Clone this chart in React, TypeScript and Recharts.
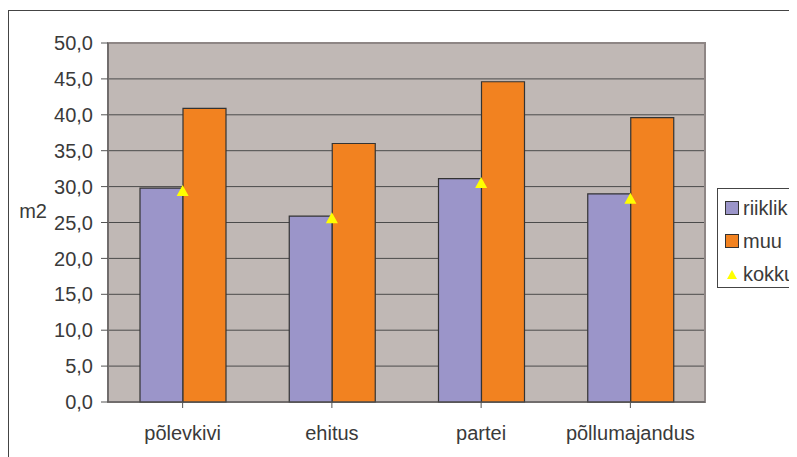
import React from 'react';
import { ComposedChart, Bar, Line, XAxis, YAxis, CartesianGrid, Legend, ReferenceArea } from 'recharts';

const categories = ['põlevkivi', 'ehitus', 'partei', 'põllumajandus'];
const riiklik = [29.8, 25.9, 31.1, 29.0];
const muu = [40.9, 36.0, 44.6, 39.6];
const kokku = [29.4, 25.6, 30.5, 28.3];
const yTicks = [0, 5, 10, 15, 20, 25, 30, 35, 40, 45, 50];

const data = categories.map((c, i) => ({ name: c, riiklik: riiklik[i], muu: muu[i], kokku: kokku[i] }));

const FONT = '"Liberation Sans", Arial, sans-serif';
const TXT = '#3a3a3a';
const PURPLE = '#9b95c9';
const ORANGE = '#f28220';
const YELLOW = '#ffff00';

const Triangle = (props: any) => {
  const { cx, cy } = props;
  if (cx == null || cy == null) return null;
  return <polygon points={`${cx - 6},${cy + 5} ${cx + 6},${cy + 5} ${cx},${cy - 6}`} fill={YELLOW} stroke="none" />;
};

const LegendBox = () => {
  const items = [
    { name: 'riiklik', color: PURPLE, type: 'rect' },
    { name: 'muu', color: ORANGE, type: 'rect' },
    { name: 'kokku', color: YELLOW, type: 'tri' },
  ];
  return (
    <div style={{ border: '1px solid #444', background: '#fff', width: 110, height: 100, boxSizing: 'border-box', position: 'relative', fontFamily: FONT, fontSize: 20, color: TXT }}>
      {items.map((it, i) => (
        <div key={it.name} style={{ position: 'absolute', left: 7, top: 7 + i * 33, height: 24, display: 'flex', alignItems: 'center' }}>
          {it.type === 'rect' ? (
            <span style={{ display: 'inline-block', width: 12, height: 12, background: it.color, border: '1px solid #333', marginRight: 4 }} />
          ) : (
            <svg width={14} height={14} style={{ marginRight: 4 }}>
              <polygon points="2,12 12,12 7,3" fill={YELLOW} />
            </svg>
          )}
          <span style={{ lineHeight: '24px' }}>{it.name}</span>
        </div>
      ))}
    </div>
  );
};

export default function App() {
  return (
    <div style={{ paddingTop: 2 }}>
      <div style={{ borderLeft: '1px solid #444', borderTop: '1px solid #444', width: 788, height: 446, overflow: 'hidden', position: 'relative' }}>
        <ComposedChart width={788} height={446} data={data} margin={{ top: 32, left: 39, right: 92, bottom: 25 }} barGap={0} barSize={43}>
          <CartesianGrid vertical={false} fill="#c0b8b5" stroke="#4a4a4a" strokeWidth={1} fillOpacity={1} />
          <ReferenceArea y1={0} y2={50} fill="none" stroke="#8e8685" strokeWidth={2} ifOverflow="visible" />
          <XAxis dataKey="name" height={30} tickSize={6} tickMargin={18} axisLine={{ stroke: '#555' }} tickLine={{ stroke: '#555' }}
            tick={{ fill: TXT, fontFamily: FONT, fontSize: 20 }} interval={0} />
          <YAxis width={60} domain={[0, 50]} ticks={yTicks} tickSize={7} tickMargin={8} interval={0}
            axisLine={{ stroke: '#555' }} tickLine={{ stroke: '#555' }}
            tick={{ fill: TXT, fontFamily: FONT, fontSize: 20 }}
            tickFormatter={(v: number) => v.toFixed(1).replace('.', ',')}
            label={{ value: 'm2', position: 'left', offset: 1, dy: -12, fill: TXT, fontFamily: FONT, fontSize: 20, angle: 0 }} />
          <Bar dataKey="riiklik" fill={PURPLE} stroke="#333" strokeWidth={1.2} isAnimationActive={false} />
          <Bar dataKey="muu" fill={ORANGE} stroke="#333" strokeWidth={1.2} isAnimationActive={false} />
          <Line dataKey="kokku" stroke="none" dot={<Triangle />} activeDot={false} isAnimationActive={false} legendType="triangle" />
          <Legend layout="vertical" align="center" verticalAlign="middle" content={<LegendBox />}
            wrapperStyle={{ left: 708, top: 177, width: 110, height: 100 }} />
        </ComposedChart>
      </div>
    </div>
  );
}
